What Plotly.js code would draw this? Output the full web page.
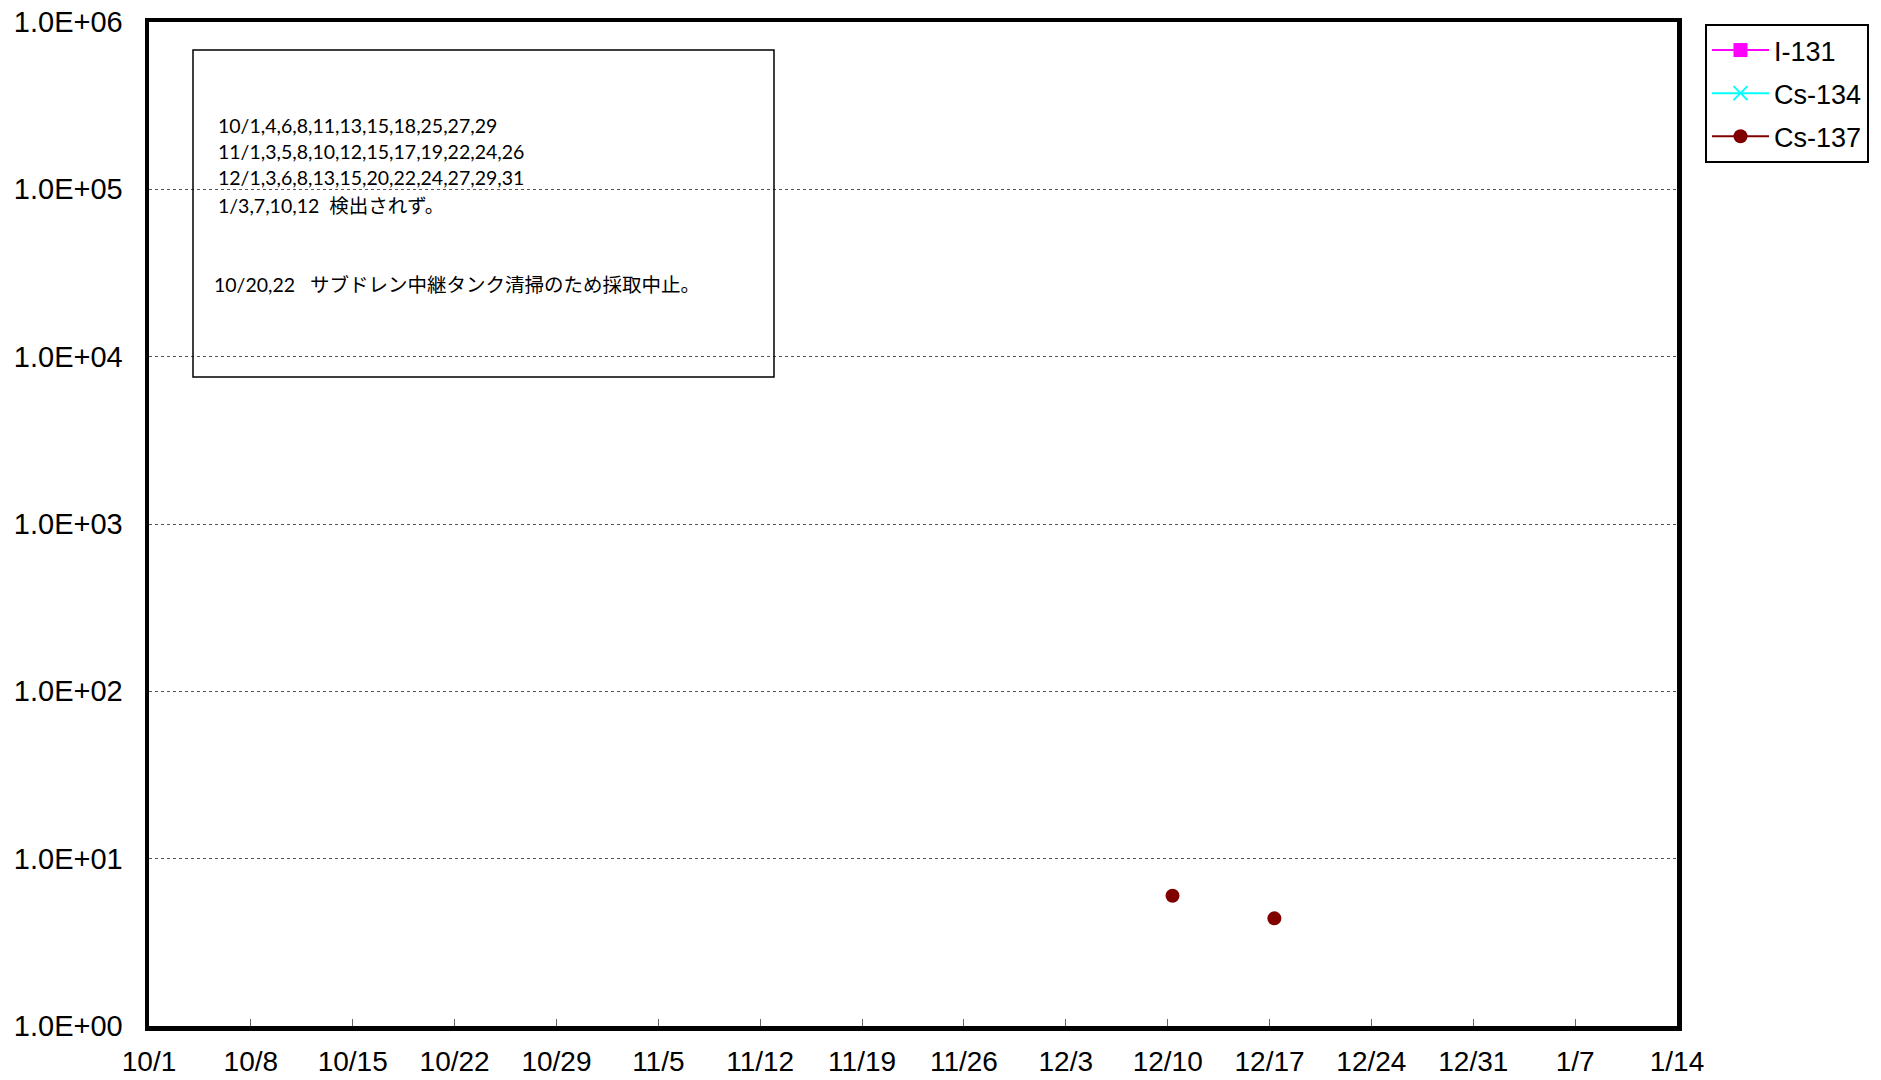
<!DOCTYPE html>
<html>
<head>
<meta charset="utf-8">
<script src="https://cdn.plot.ly/plotly-3.0.1.min.js"></script>
<style>html,body{margin:0;padding:0;background:#fff;}#chart{width:1881px;height:1080px;}</style>
</head>
<body>
<div id="chart"></div>
<script>
// Sampling dates (time of sampling ~08:00)
const sampleDates = [
  '2015-10-01','2015-10-04','2015-10-06','2015-10-08','2015-10-11','2015-10-13','2015-10-15','2015-10-18','2015-10-25','2015-10-27','2015-10-29',
  '2015-11-01','2015-11-03','2015-11-05','2015-11-08','2015-11-10','2015-11-12','2015-11-15','2015-11-17','2015-11-19','2015-11-22','2015-11-24','2015-11-26',
  '2015-12-01','2015-12-03','2015-12-06','2015-12-08','2015-12-10','2015-12-13','2015-12-15','2015-12-17','2015-12-20','2015-12-22','2015-12-24','2015-12-27','2015-12-29','2015-12-31',
  '2016-01-03','2016-01-07','2016-01-10','2016-01-12'
].map(d => d + ' 08:00');
// Values (Bq/L); null = not detected
const i131Values = sampleDates.map(() => null);
const cs134Values = sampleDates.map(() => null);
const cs137Detected = {'2015-12-10 08:00': 6.0, '2015-12-17 08:00': 4.4};
const cs137Values = sampleDates.map(d => (d in cs137Detected ? cs137Detected[d] : null));

const seriesNames = ['I-131', 'Cs-134', 'Cs-137'];
const xTickVals = ['2015-10-01','2015-10-08','2015-10-15','2015-10-22','2015-10-29','2015-11-05','2015-11-12','2015-11-19','2015-11-26','2015-12-03','2015-12-10','2015-12-17','2015-12-24','2015-12-31','2016-01-07','2016-01-14'];
const xTickText = ['10/1','10/8','10/15','10/22','10/29','11/5','11/12','11/19','11/26','12/3','12/10','12/17','12/24','12/31','1/7','1/14'];
const yTickVals = [1, 10, 100, 1000, 10000, 100000, 1000000];
const yTickText = ['1.0E+00','1.0E+01','1.0E+02','1.0E+03','1.0E+04','1.0E+05','1.0E+06'];

const noteLines = [
  '10/1,4,6,8,11,13,15,18,25,27,29',
  '11/1,3,5,8,10,12,15,17,19,22,24,26',
  '12/1,3,6,8,13,15,20,22,24,27,29,31',
  '1/3,7,10,12\u00a0\u00a0検出されず。'
];
const noteLine2 = '10/20,22\u00a0\u00a0\u00a0サブドレン中継タンク清掃のため採取中止。';

const traces = [
  {x: sampleDates, y: i131Values, name: seriesNames[0], legendgroup: 'g1', mode: 'lines+markers', connectgaps: false,
   line: {color: '#FF00FF', width: 2}, marker: {symbol: 'square', size: 14, color: '#FF00FF'}},
  {x: sampleDates, y: cs134Values, name: seriesNames[1], legendgroup: 'g2', mode: 'lines+markers', connectgaps: false,
   line: {color: '#00FFFF', width: 2}, marker: {symbol: 'x-thin', size: 14, color: '#00FFFF', line: {color: '#00FFFF', width: 2}}},
  {x: sampleDates, y: cs137Values, name: seriesNames[2], legendgroup: 'g3', mode: 'lines+markers', connectgaps: false,
   line: {color: '#800000', width: 2}, marker: {symbol: 'circle', size: 14, color: '#800000'}}
];

const L = 149, T = 22, R = 1677, B = 1026;
const W = R - L, H = B - T;
const px = x => (x - L) / W;
const py = y => (B - y) / H;

const noteFont = {family: 'Lato, "Noto Sans CJK JP", sans-serif', size: 19.5, color: '#000'};
const annotations = [];
const noteY = [125, 151, 178, 205.5];
noteLines.forEach((t, i) => {
  annotations.push({xref: 'paper', yref: 'paper', x: px(216), y: py(noteY[i]), xanchor: 'left', yanchor: 'middle',
    text: t, showarrow: false, font: noteFont});
});
annotations.push({xref: 'paper', yref: 'paper', x: px(212), y: py(284), xanchor: 'left', yanchor: 'middle',
  text: noteLine2, showarrow: false, font: noteFont});

const layout = {
  width: 1881, height: 1080,
  margin: {l: L, t: T, r: 1881 - R, b: 1080 - B, pad: 0},
  paper_bgcolor: '#fff', plot_bgcolor: '#fff',
  font: {family: '"Liberation Sans", Arial, sans-serif', color: '#000'},
  showlegend: true,
  legend: {x: px(1705), y: py(24), xanchor: 'left', yanchor: 'top', bordercolor: '#000', borderwidth: 2,
    bgcolor: '#fff', font: {size: 27, family: '"Liberation Sans", Arial, sans-serif'}, tracegroupgap: 5, itemwidth: 57},
  xaxis: {type: 'date', range: ['2015-10-01', '2016-01-14'], tickmode: 'array', tickvals: xTickVals, ticktext: xTickText,
    showgrid: false, zeroline: false, showline: true, linecolor: '#000', linewidth: 4.5, mirror: true,
    ticks: 'inside', ticklen: 7, tickcolor: '#666', tickwidth: 1, ticklabelstandoff: 7,
    tickfont: {size: 28, family: '"Liberation Sans", Arial, sans-serif', color: '#000'}, fixedrange: true},
  yaxis: {type: 'log', range: [0, 6], tickmode: 'array', tickvals: yTickVals, ticktext: yTickText,
    showgrid: true, gridcolor: '#555', griddash: 'dot', gridwidth: 1, zeroline: false,
    showline: true, linecolor: '#000', linewidth: 4.5, mirror: true, ticks: '', ticklabelstandoff: 16,
    tickfont: {size: 29, family: '"Liberation Sans", Arial, sans-serif', color: '#000'}, fixedrange: true},
  shapes: [
    {type: 'rect', xref: 'paper', yref: 'paper', x0: px(193), x1: px(774), y0: py(377), y1: py(50),
      line: {color: '#000', width: 1.5}, fillcolor: 'rgba(0,0,0,0)', layer: 'above'}
  ],
  annotations: annotations
};

Plotly.newPlot('chart', traces, layout, {displayModeBar: false, staticPlot: true});
</script>
</body>
</html>
